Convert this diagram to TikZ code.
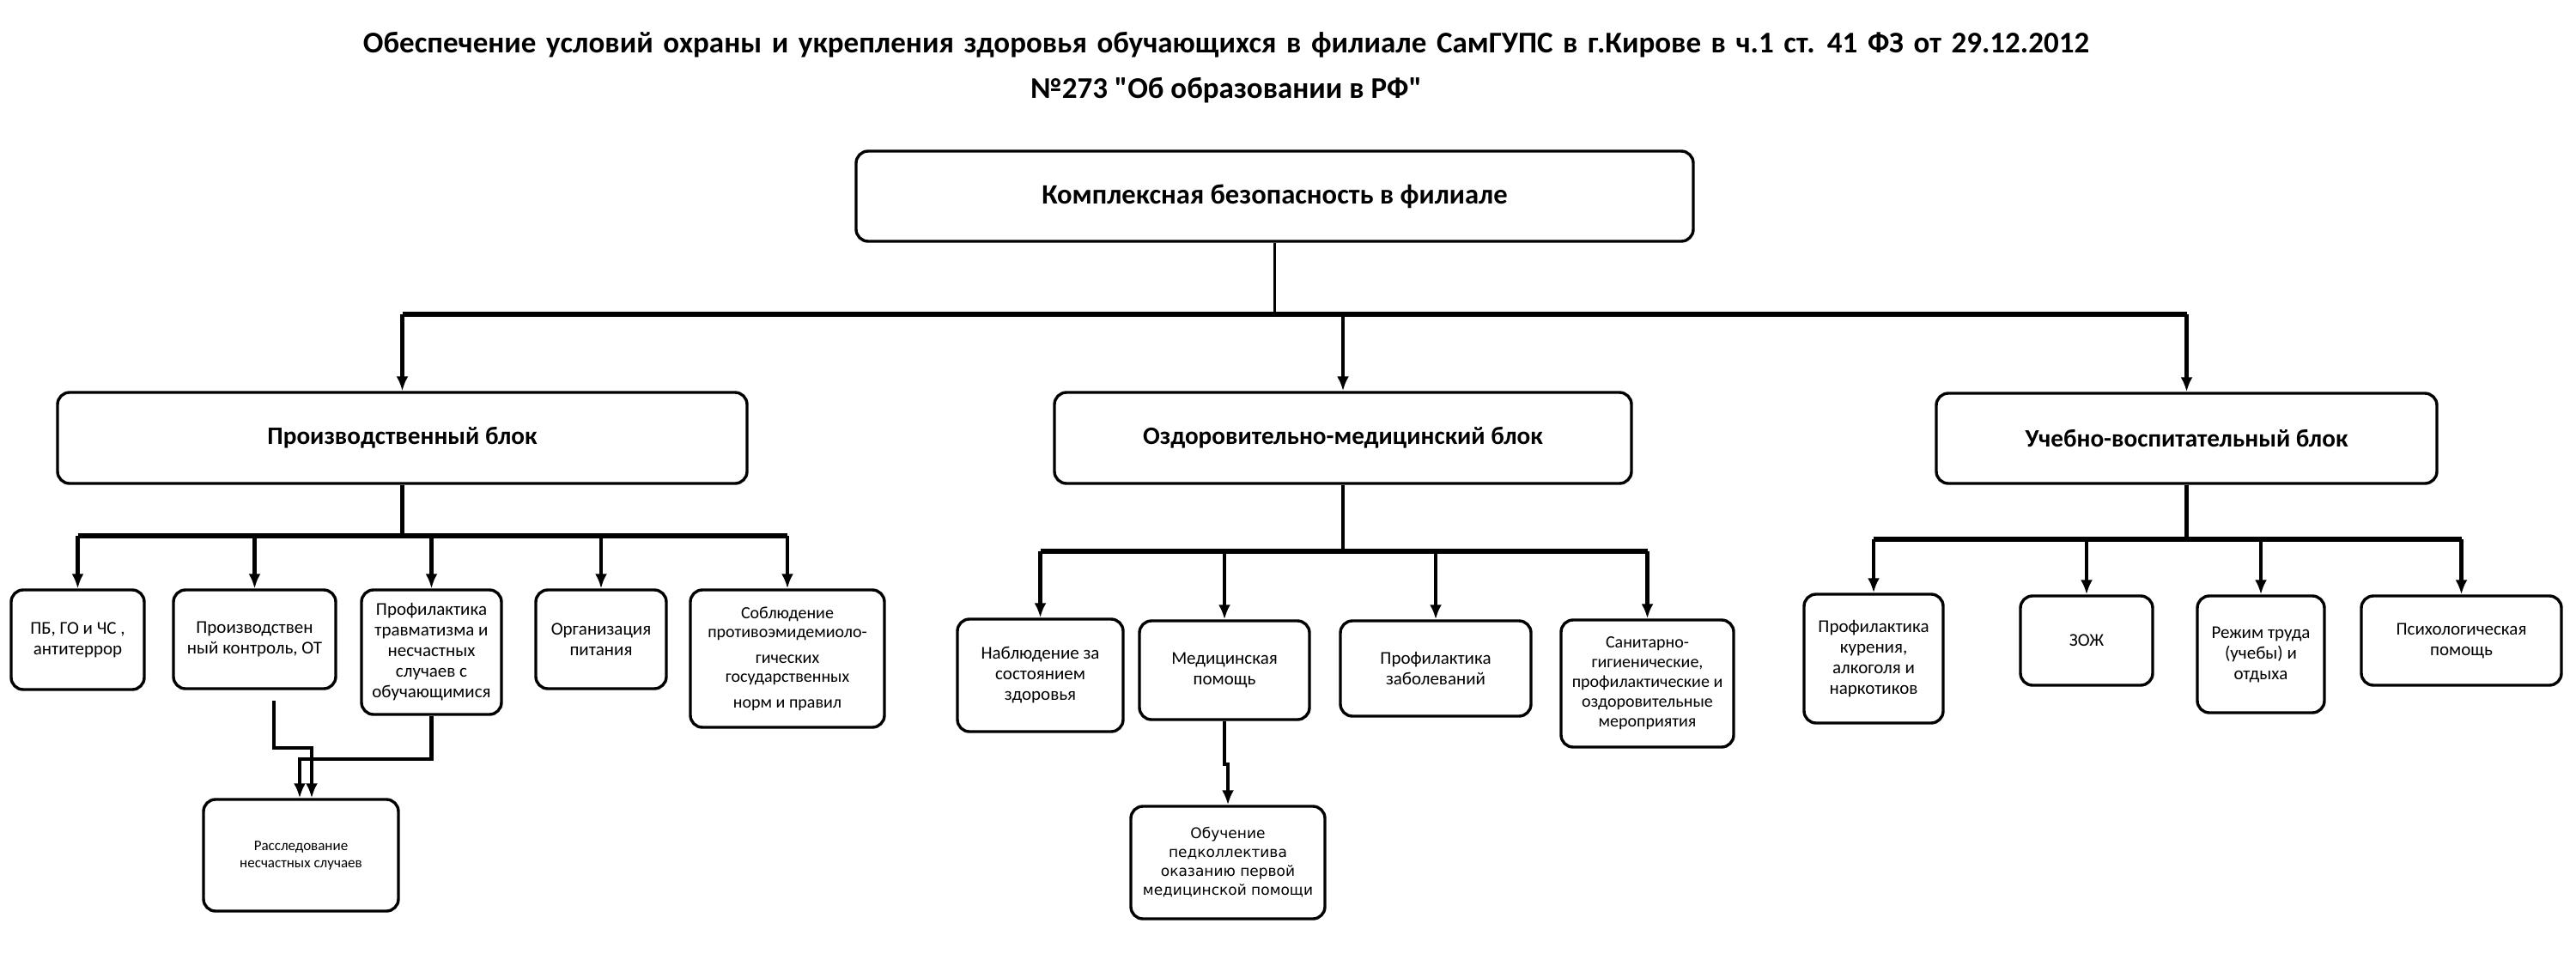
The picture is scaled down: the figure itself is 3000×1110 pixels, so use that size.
\documentclass[tikz,border=0pt]{standalone}
\usepackage{fontspec}
\setmainfont{Carlito}
\newfontfamily\dejavu{DejaVu Sans}
\usetikzlibrary{arrows.meta}
\begin{document}
\begin{tikzpicture}[x=0.5pt,y=-0.5pt,
  box/.style={draw, line width=1.7pt, rounded corners=7pt, align=center, inner sep=0pt,
    font=\fontsize{10.5}{12}\selectfont},
  bx/.style n args={2}{minimum width=#1*0.5pt, minimum height=#2*0.5pt},
  head/.style={box, font=\bfseries\fontsize{14.6}{18}\selectfont},
  conn/.style={line width=2.2pt},
  thinconn/.style={line width=1.3pt},
  arr/.style={conn, -{Latex[length=8.5pt,width=7pt]}},
  bus/.style={line width=2.7pt},
  ttl/.style={font=\bfseries\fontsize{17.5}{21}\selectfont, inner sep=0pt}]
\useasboundingbox (0,0) rectangle (3000,1110);
% title
\node[ttl] (title1) at (1428,52)
  {\spaceskip=5.8pt\relax Обеспечение условий охраны и укрепления здоровья обучающихся в филиале СамГУПС в г.Кирове в ч.1 ст. 41 ФЗ от 29.12.2012};
\node[ttl] (title2) at (1428,105) {\addfontfeatures{Ligatures=TeXOff}№273 "Об образовании в РФ"};
% top
\node[box, bx={975}{105}, font=\bfseries\fontsize{16.3}{19}\selectfont] (top) at (1484.5,228.5) {Комплексная безопасность в филиале};
% blocks
\node[head, bx={803}{106}] (prod) at (468.5,510) {Производственный блок};
\node[head, bx={672}{106}] (med) at (1564,510) {Оздоровительно-медицинский блок};
\node[head, bx={583}{105}] (edu) at (2546.5,510.5) {Учебно-воспитательный блок};
% production children
\node[box, bx={155}{116}] (p1) at (90.5,745) {ПБ, ГО и ЧС ,\\антитеррор};
\node[box, bx={189}{115}] (p2) at (296.5,744.5) {Производствен\\ный контроль, ОТ};
\node[box, bx={163}{145}] (p3) at (502.5,759.5) {Профилактика\\травматизма и\\несчастных\\случаев с\\обучающимися};
\node[box, bx={152}{115}] (p4) at (700,744.5) {Организация\\питания};
\node[box, bx={226}{160}, font=\fontsize{10}{11}\selectfont] (p5) at (917,767)
  {Соблюдение\\противоэмидемиоло-\\[4pt]гических\\государственных\\[4pt]норм и правил};
\node[box, bx={227}{130}, font=\fontsize{8.5}{10}\selectfont] (p6) at (350.5,996)
  {Расследование\\несчастных случаев};
% medical children
\node[box, bx={193}{131}] (m1) at (1211.5,786.5) {Наблюдение за\\состоянием\\здоровья};
\node[box, bx={198}{115}] (m2) at (1426,780.5) {Медицинская\\помощь};
\node[box, bx={222}{111}] (m3) at (1672,778.5) {Профилактика\\заболеваний};
\node[box, bx={201}{148}, font=\fontsize{10}{11.5}\selectfont] (m4) at (1918.5,796)
  {Санитарно-\\гигиенические,\\профилактические и\\оздоровительные\\мероприятия};
\node[box, bx={226}{131}, font=\dejavu\fontsize{8.5}{11}\selectfont] (m5) at (1430,1004.5)
  {Обучение\\педколлектива\\оказанию первой\\медицинской помощи};
% educational children
\node[box, bx={162}{150}] (e1) at (2182,767) {Профилактика\\курения,\\алкоголя и\\наркотиков};
\node[box, bx={154}{104}] (e2) at (2430,746) {ЗОЖ};
\node[box, bx={148}{136}] (e3) at (2633,762) {Режим труда\\(учебы) и\\отдыха};
\node[box, bx={233}{104}] (e4) at (2866.5,746) {Психологическая\\помощь};
% top level connectors
\coordinate (busT) at (1485,366);
\draw[thinconn] (top.south) -- (top.south |- busT);
\draw[bus] (prod.north |- busT) -- (edu.north |- busT);
\foreach \n in {prod,med,edu} \draw[arr] (\n.north |- busT) -- (\n.north);
% production bus
\coordinate (busP) at (469,624);
\draw[conn] (prod.south) -- (prod.south |- busP);
\draw[bus] (p1.north |- busP) -- (p5.north |- busP);
\foreach \n in {p1,p2,p3,p4,p5} \draw[arr] (\n.north |- busP) -- (\n.north);
% medical bus
\coordinate (busM) at (1564,642);
\draw[conn] (med.south) -- (med.south |- busM);
\draw[bus] (m1.north |- busM) -- (m4.north |- busM);
\foreach \n in {m1,m2,m3,m4} \draw[arr] (\n.north |- busM) -- (\n.north);
% educational bus
\coordinate (busE) at (2547,628);
\draw[conn] (edu.south) -- (edu.south |- busE);
\draw[bus] (e1.north |- busE) -- (e4.north |- busE);
\foreach \n in {e1,e2,e3,e4} \draw[arr] (\n.north |- busE) -- (\n.north);
% investigation connectors
\coordinate (pA) at (319,816);
\draw[arr] (pA) -- ++(0,55) -| ([xshift=6.25pt]p6.north);
\draw[arr] (p3.south) -- ++(0,50) -| ([xshift=-0.75pt]p6.north);
% first aid training
\draw[arr] (m2.south) -- ++(0,50) -| (m5.north);
\end{tikzpicture}
\end{document}
